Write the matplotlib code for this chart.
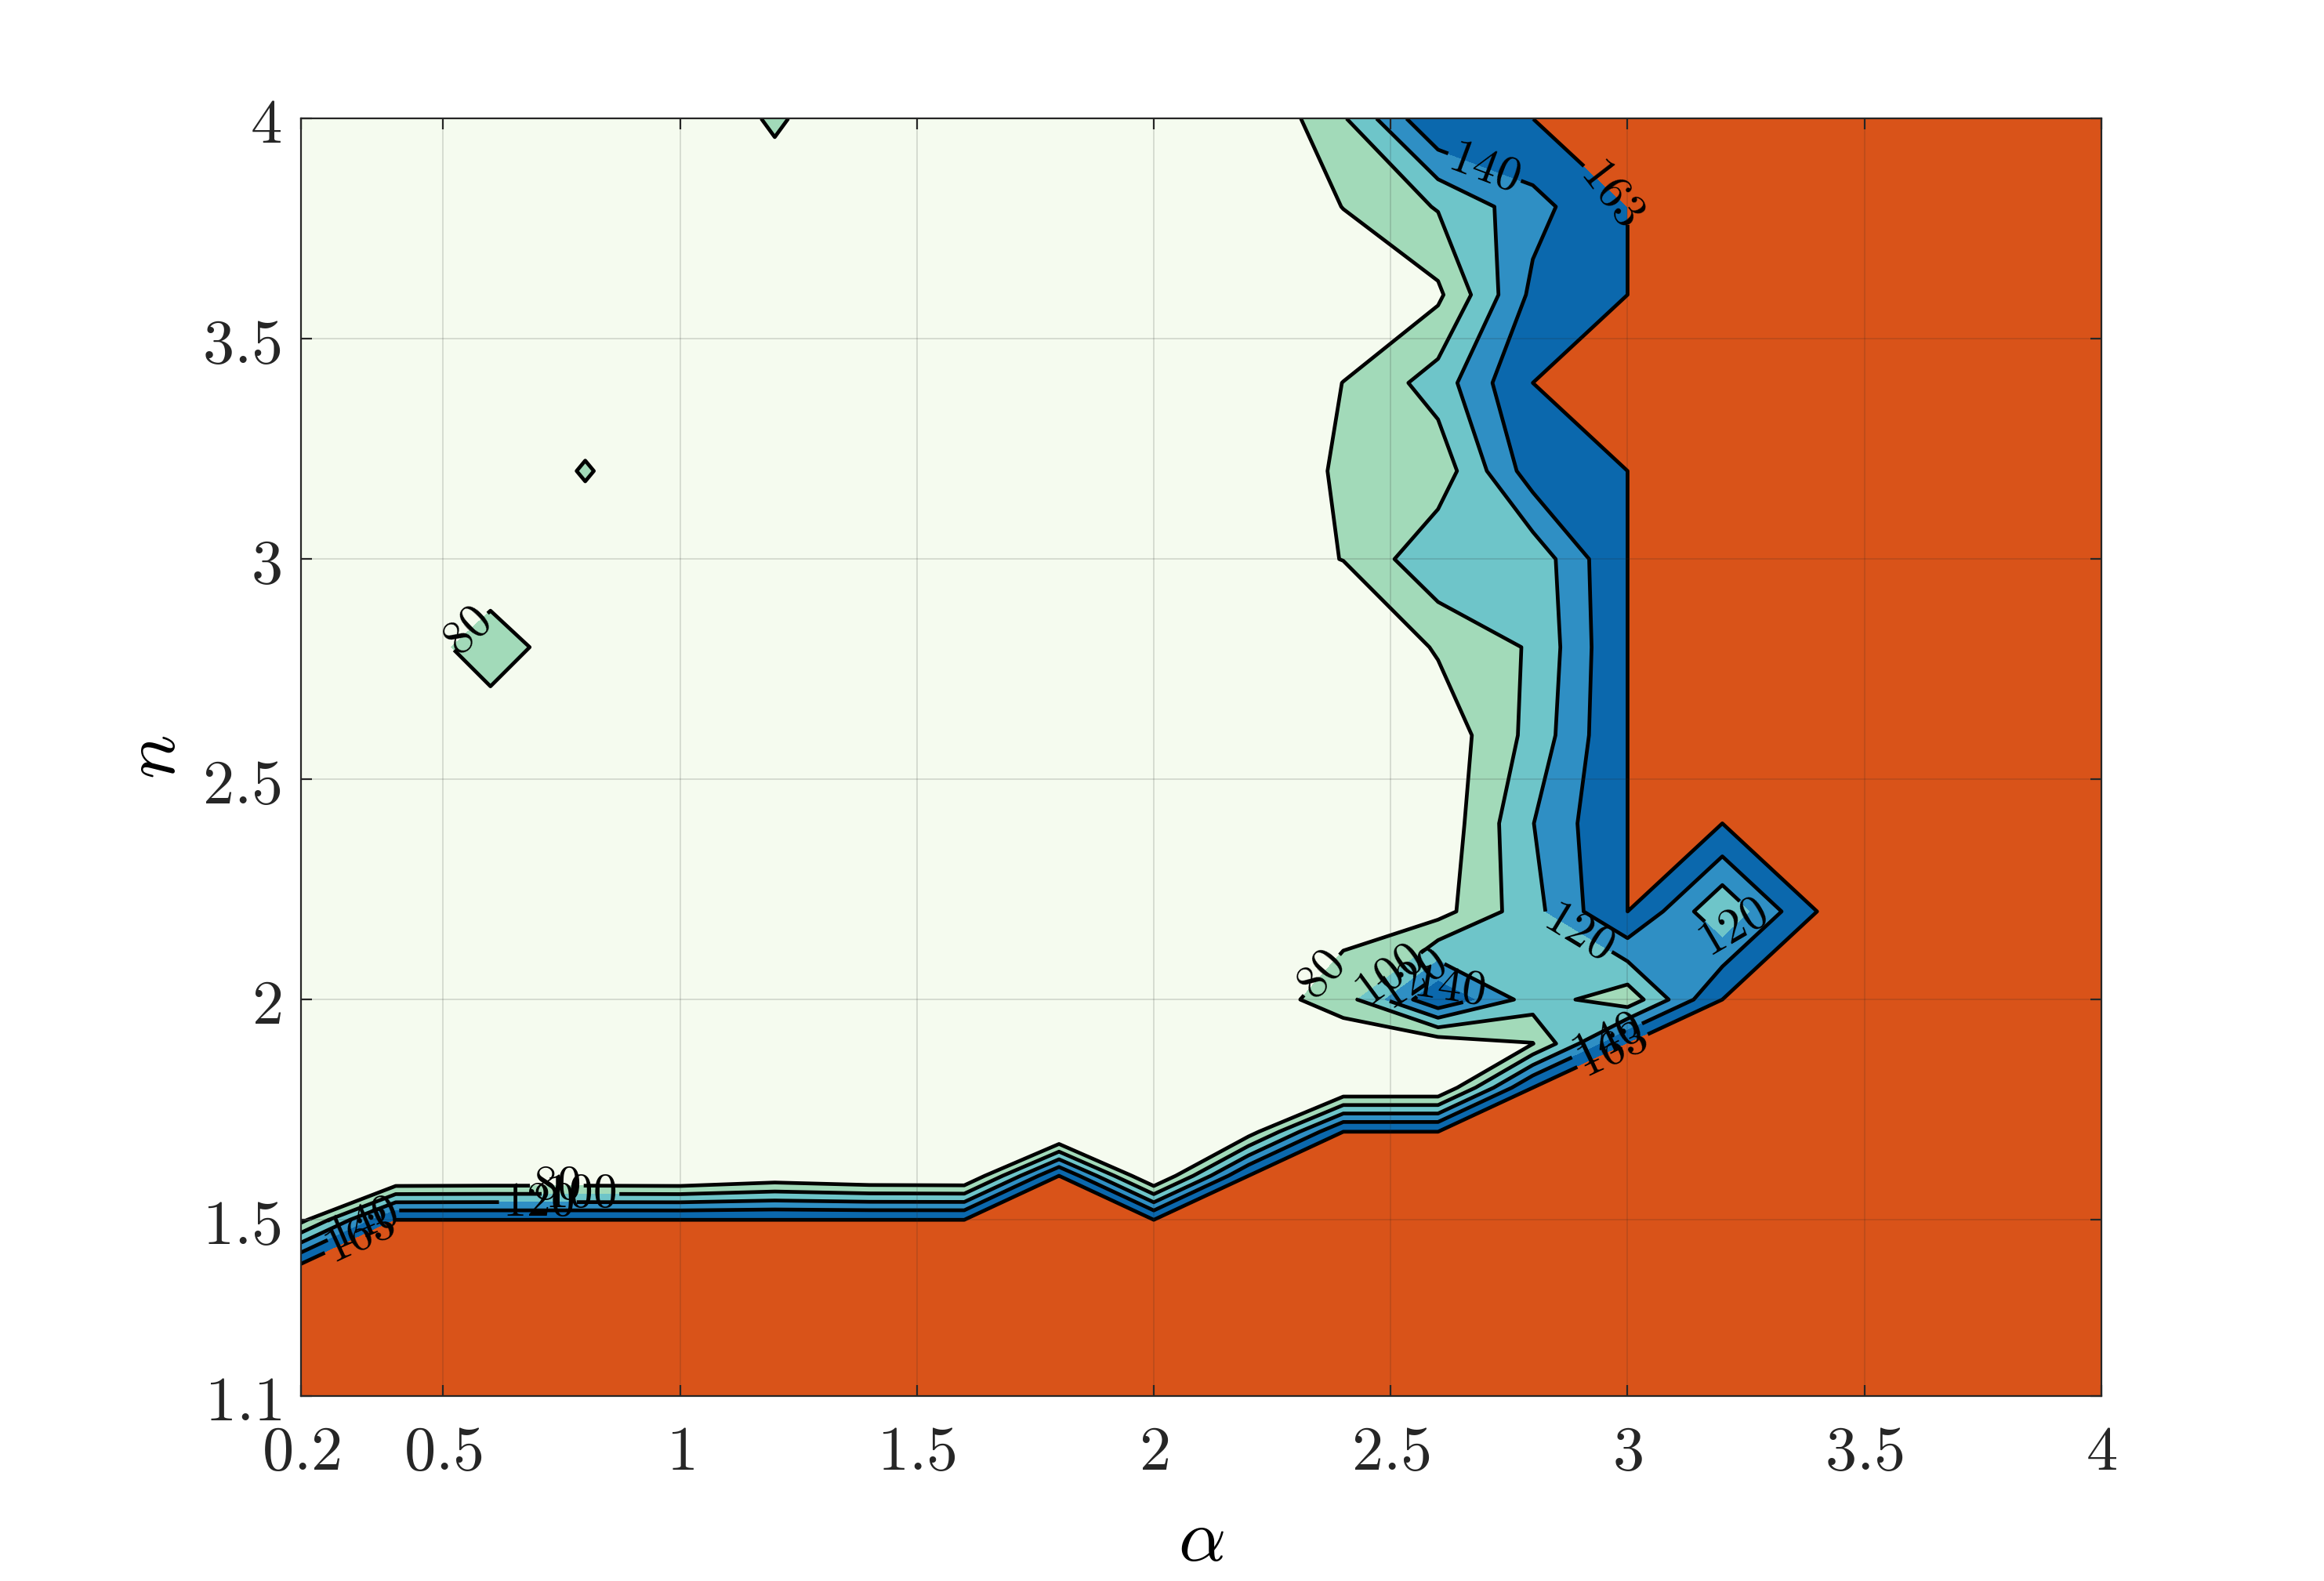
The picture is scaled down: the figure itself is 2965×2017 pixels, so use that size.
import matplotlib
matplotlib.use('Agg')
import matplotlib.pyplot as plt
import numpy as np

plt.rcParams['mathtext.fontset'] = 'cm'
plt.rcParams['font.family'] = 'serif'

# grid of the study: alpha (columns) and n (rows)
alpha_vals = [0.2, 0.4, 0.6, 0.8, 1.0, 1.2, 1.4, 1.6, 1.8, 2.0,
              2.2, 2.4, 2.6, 2.8, 3.0, 3.2, 3.4, 3.6, 3.8, 4.0]
n_vals = [1.1, 1.2, 1.3, 1.4, 1.5, 1.6, 1.7, 1.8, 1.9, 2.0,
          2.2, 2.4, 2.6, 2.8, 3.0, 3.2, 3.4, 3.6, 3.8, 4.0]

# values (163 = saturated region)
z_n11 = [163, 163, 163, 163, 163, 163, 163, 163, 163, 163, 163, 163, 163, 163, 163, 163, 163, 163, 163, 163]
z_n12 = [163, 163, 163, 163, 163, 163, 163, 163, 163, 163, 163, 163, 163, 163, 163, 163, 163, 163, 163, 163]
z_n13 = [163, 163, 163, 163, 163, 163, 163, 163, 163, 163, 163, 163, 163, 163, 163, 163, 163, 163, 163, 163]
z_n14 = [163, 163, 163, 163, 163, 163, 163, 163, 163, 163, 163, 163, 163, 163, 163, 163, 163, 163, 163, 163]
z_n15 = [74, 163, 163, 163, 163, 163, 163, 163, 163, 163, 163, 163, 163, 163, 163, 163, 163, 163, 163, 163]
z_n16 = [60, 55, 56, 56, 55, 65, 58, 57, 163, 55, 163, 163, 163, 163, 163, 163, 163, 163, 163, 163]
z_n17 = [62, 60, 61, 60, 62, 61, 60, 58, 48, 58, 70, 163, 163, 163, 163, 163, 163, 163, 163, 163]
z_n18 = [60, 62, 61, 60, 62, 63, 61, 60, 58, 60, 62, 59, 59, 163, 163, 163, 163, 163, 163, 163]
z_n19 = [61, 62, 63, 62, 60, 62, 61, 62, 63, 62, 64, 66, 66, 79.4, 163, 163, 163, 163, 163, 163]
z_n20 = [62, 63, 62, 61, 62, 63, 62, 64, 63, 62, 68, 90, 158, 110.6, 87, 163, 163, 163, 163, 163]
z_n22 = [63, 62, 64, 62, 63, 62, 64, 63, 62, 64, 63, 72, 72, 113.4, 163, 101.6, 163, 163, 163, 163]
z_n24 = [62, 63, 62, 64, 63, 62, 63, 62, 64, 63, 62, 62, 64.7, 119.5, 163, 163, 163, 163, 163, 163]
z_n26 = [63, 62, 65, 63, 62, 63, 62, 63, 62, 63, 61, 60, 65.3, 106.5, 163, 163, 163, 163, 163, 163]
z_n28 = [62, 63, 92, 63, 62, 63, 64, 62, 63, 62, 60, 55, 82.5, 102.4, 163, 163, 163, 163, 163, 163]
z_n30 = [62, 63, 63, 65, 62, 63, 62, 63, 62, 63, 69, 80.5, 116.6, 106.3, 163, 163, 163, 163, 163, 163]
z_n32 = [61, 62, 60, 82, 60, 62, 63, 62, 61, 62, 55, 85, 87.3, 150.8, 163, 163, 163, 163, 163, 163]
z_n34 = [62, 61, 62, 65, 62, 61, 62, 61, 62, 61, 60, 80.3, 109, 163, 163, 163, 163, 163, 163, 163]
z_n36 = [61, 62, 61, 62, 61, 62, 61, 62, 61, 62, 60, 62, 76, 145, 163, 163, 163, 163, 163, 163]
z_n38 = [60, 61, 60, 61, 60, 65, 60, 61, 60, 61, 58, 80.5, 101.5, 132.6, 163, 163, 163, 163, 163, 163]
z_n40 = [58, 59, 58, 57, 56, 84, 56, 57, 58, 57, 58, 97.8, 161, 163, 163, 163, 163, 163, 163, 163]

levels = [80, 100, 120, 140, 163]
fill_colors = ['#F5FBEF', '#A2DAB9', '#6EC5C9', '#2F8FC4', '#0B68AD', '#D95319']

xticks = [0.2, 0.5, 1, 1.5, 2, 2.5, 3, 3.5, 4]
xticklabels = ['0.2', '0.5', '1', '1.5', '2', '2.5', '3', '3.5', '4']
yticks = [1.1, 1.5, 2, 2.5, 3, 3.5, 4]
yticklabels = ['1.1', '1.5', '2', '2.5', '3', '3.5', '4']

# where the labels sit on each contour level
label_spots = {
    80: [(0.57, 2.815), (2.35, 2.06), (0.74, 1.594)],
    100: [(2.50, 2.05), (0.79, 1.564)],
    120: [(2.55, 2.04), (2.90, 2.16), (3.20, 2.19), (0.70, 1.54)],
    140: [(2.70, 3.895), (2.62, 2.02), (2.96, 1.90), (0.34, 1.47)],
    163: [(2.956, 3.818), (2.97, 1.88), (0.33, 1.45)],
}

Z = np.array([z_n11, z_n12, z_n13, z_n14, z_n15, z_n16, z_n17, z_n18, z_n19, z_n20,
              z_n22, z_n24, z_n26, z_n28, z_n30, z_n32, z_n34, z_n36, z_n38, z_n40])
A, N = np.meshgrid(alpha_vals, n_vals)

# top level nudged just under the saturation value so the cap gets filled
cut = levels[:-1] + [levels[-1] - 1e-3]

fig = plt.figure(figsize=(14.825, 10.085), dpi=200)
ax = fig.add_axes([0.1295, 0.117, 0.7747, 0.808])

ax.contourf(A, N, Z, levels=[0] + cut + [200], colors=fill_colors)

fmt = lambda v: '$%d$' % round(v)
for lev, lev_cut in zip(levels, cut):
    cs = ax.contour(A, N, Z, levels=[lev_cut], colors='k', linewidths=1.7)
    ax.clabel(cs, manual=label_spots[lev], fmt=fmt,
              fontsize=22, inline=True, inline_spacing=4, colors='k')

ax.set_xlim(0.2, 4)
ax.set_ylim(1.1, 4)
ax.set_xticks(xticks)
ax.set_xticklabels(['$' + s + '$' for s in xticklabels])
ax.set_yticks(yticks)
ax.set_yticklabels(['$' + s + '$' for s in yticklabels])
ax.tick_params(direction='in', length=5, width=0.8, top=True, right=True,
               labelsize=29, colors='#262626')
ax.tick_params(axis='x', pad=12)
ax.tick_params(axis='y', pad=9)
ax.grid(True, color='#262626', alpha=0.15, linewidth=0.7)
ax.set_axisbelow(False)
for sp in ax.spines.values():
    sp.set_color('#262626')
    sp.set_linewidth(0.8)

ax.set_xlabel(r'$\alpha$', fontsize=34, labelpad=10)
ax.set_ylabel(r'$n$', fontsize=34, labelpad=6)

fig.savefig('out.png', dpi=200)
